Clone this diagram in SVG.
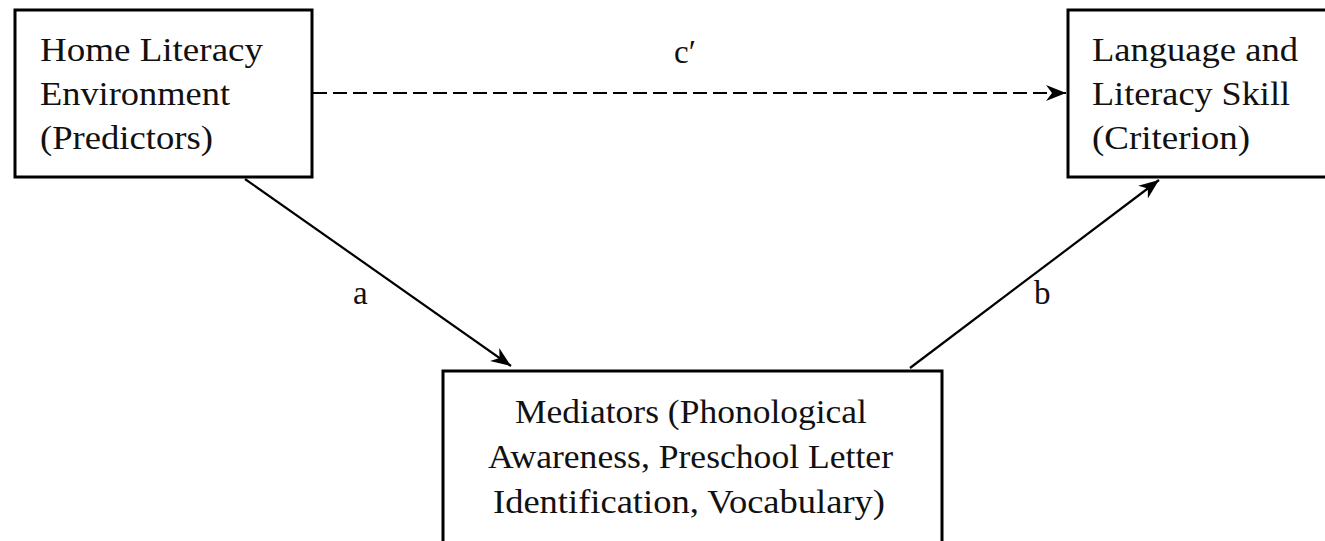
<svg xmlns="http://www.w3.org/2000/svg" width="1325" height="541" viewBox="0 0 1325 541">
<style>
.box{fill:#fff;stroke:#000;stroke-width:3}
.t{font-size:34px;fill:#111}
.lbl{font-size:33px;fill:#111}
.c{fill:none;stroke:#000;stroke-width:2.2}
</style>
<defs>
<marker id="ahl" viewBox="0 0 10 10" refX="10" refY="5" markerWidth="20" markerHeight="20" markerUnits="userSpaceOnUse" orient="auto">
<path d="M0,1 L10,5 L0,9 L3,5 Z" fill="#000"/>
</marker>
</defs>
<rect width="1325" height="541" fill="#fff"/>
<g font-family="Liberation Serif, Times New Roman, serif">
<g id="connectors">
<line class="c" x1="313" y1="93" x2="1066" y2="93" stroke-width="3" stroke-dasharray="14,6" marker-end="url(#ahl)"/>
<line class="c" x1="245" y1="179" x2="511" y2="366" marker-end="url(#ahl)"/>
<line class="c" x1="910" y1="368" x2="1159" y2="180" marker-end="url(#ahl)"/>
<text class="lbl" x="674" y="63">c′</text>
<text class="lbl" x="353" y="304">a</text>
<text class="lbl" x="1034" y="304">b</text>
</g>
<g id="home">
<rect class="box" x="15" y="10" width="297" height="167"/>
<text class="t" x="40" y="61" textLength="223" lengthAdjust="spacingAndGlyphs">Home Literacy</text>
<text class="t" x="40" y="105" textLength="190" lengthAdjust="spacingAndGlyphs">Environment</text>
<text class="t" x="40" y="149" textLength="173" lengthAdjust="spacingAndGlyphs">(Predictors)</text>
</g>
<g id="language">
<rect class="box" x="1068" y="10" width="270" height="167"/>
<text class="t" x="1092" y="61" textLength="206" lengthAdjust="spacingAndGlyphs">Language and</text>
<text class="t" x="1092" y="105" textLength="198" lengthAdjust="spacingAndGlyphs">Literacy Skill</text>
<text class="t" x="1092" y="149" textLength="158" lengthAdjust="spacingAndGlyphs">(Criterion)</text>
</g>
<g id="mediators">
<rect class="box" x="443" y="371" width="499" height="180"/>
<text class="t" x="515" y="423" textLength="352" lengthAdjust="spacingAndGlyphs">Mediators (Phonological</text>
<text class="t" x="488" y="468" textLength="405" lengthAdjust="spacingAndGlyphs">Awareness, Preschool Letter</text>
<text class="t" x="493" y="513" textLength="392" lengthAdjust="spacingAndGlyphs">Identification, Vocabulary)</text>
</g>
</g>
</svg>
